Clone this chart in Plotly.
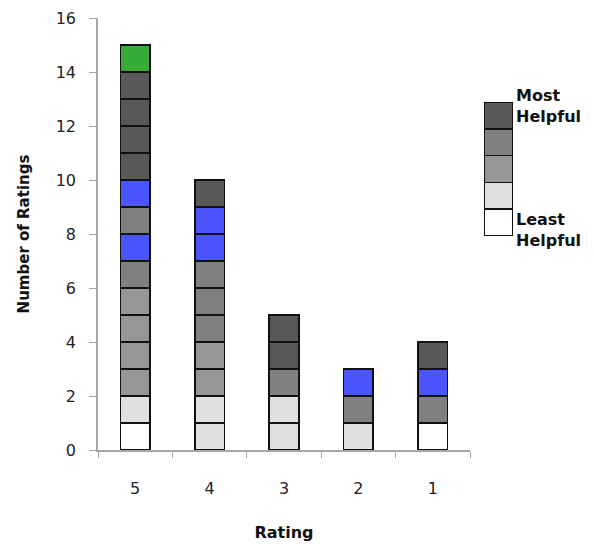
import plotly.graph_objects as go

categories = ["5", "4", "3", "2", "1"]

# colour code of each unit cell, bottom to top, per rating
stack_5 = ["W", "L", "M", "M", "M", "M", "D", "B", "D", "B", "K", "K", "K", "K", "G"]
stack_4 = ["L", "L", "M", "M", "D", "D", "D", "B", "B", "K"]
stack_3 = ["L", "L", "D", "K", "K"]
stack_2 = ["L", "D", "B"]
stack_1 = ["W", "D", "B", "K"]
stacks = [stack_5, stack_4, stack_3, stack_2, stack_1]

palette = {
    "W": "#ffffff",
    "L": "#e0e0e0",
    "M": "#969696",
    "D": "#808080",
    "K": "#595959",
    "B": "#4b55fd",
    "G": "#37ab37",
}

legend_codes = ["W", "L", "M", "D", "K"]  # bottom to top
legend_top = "Most<br>Helpful"
legend_bottom = "Least<br>Helpful"

y_ticks = [0, 2, 4, 6, 8, 10, 12, 14, 16]

fig = go.Figure()

max_h = max(len(s) for s in stacks)
for level in range(max_h):
    xs, ys, cols = [], [], []
    for cat, s in zip(categories, stacks):
        if level < len(s):
            xs.append(cat)
            ys.append(1)
            cols.append(palette[s[level]])
    fig.add_trace(go.Bar(
        x=xs, y=ys,
        marker=dict(color=cols, line=dict(color="#111111", width=1.6)),
        showlegend=False, hoverinfo="skip",
    ))

# legend key drawn as a small stacked column on its own axes
for i, code in enumerate(legend_codes):
    fig.add_trace(go.Bar(
        x=[0], y=[1], xaxis="x2", yaxis="y2",
        marker=dict(color=palette[code], line=dict(color="#111111", width=1.6)),
        showlegend=False, hoverinfo="skip", width=1,
    ))

L, R, T, B = 98, 4, 18, 94
W, H = 594, 544
pw, ph = W - L - R, H - T - B
PLOT_RIGHT = 470


def px(x):
    return (x - L) / pw


def py(y):
    return (H - B - y) / ph


axis_col = "#a6a6a6"
fig.update_layout(
    width=W, height=H,
    margin=dict(l=L, r=R, t=T, b=B, autoexpand=False),
    paper_bgcolor="white", plot_bgcolor="white",
    barmode="stack", bargap=0.6,
    font=dict(family="DejaVu Sans", color="#222222"),
    xaxis=dict(
        domain=[0, px(PLOT_RIGHT)],
        type="category", categoryorder="array", categoryarray=categories,
        tickson="boundaries", ticks="outside", ticklen=6, tickcolor=axis_col,
        showline=True, linecolor=axis_col, linewidth=1.5, showgrid=False,
        tickfont=dict(size=16), ticklabelstandoff=23, automargin=False,
        title=dict(text="<b>Rating</b>", font=dict(size=16, color="#111111"), standoff=30),
    ),
    yaxis=dict(
        range=[0, 16], tickvals=y_ticks, ticks="outside", ticklen=7, tickcolor=axis_col,
        showline=True, linecolor=axis_col, linewidth=1.5, showgrid=False, zeroline=False,
        tickfont=dict(size=16), ticklabelstandoff=10, automargin=False,
        title=dict(text="<b>Number of Ratings</b>", font=dict(size=15, color="#111111"), standoff=22),
    ),
    xaxis2=dict(domain=[px(484), px(513)], range=[-0.5, 0.5], visible=False, anchor="y2"),
    yaxis2=dict(domain=[py(236), py(102)], range=[0, 5], visible=False, anchor="x2"),
    annotations=[
        dict(text="<b>" + legend_top + "</b>", xref="paper", yref="paper",
             x=px(514), y=py(84), xanchor="left", yanchor="top", align="left",
             showarrow=False, font=dict(size=16, color="#111111")),
        dict(text="<b>" + legend_bottom + "</b>", xref="paper", yref="paper",
             x=px(514), y=py(208), xanchor="left", yanchor="top", align="left",
             showarrow=False, font=dict(size=16, color="#111111")),
    ],
)

fig.write_html("out.html", config={"displayModeBar": False},
               post_script="document.body.style.margin='0';")
